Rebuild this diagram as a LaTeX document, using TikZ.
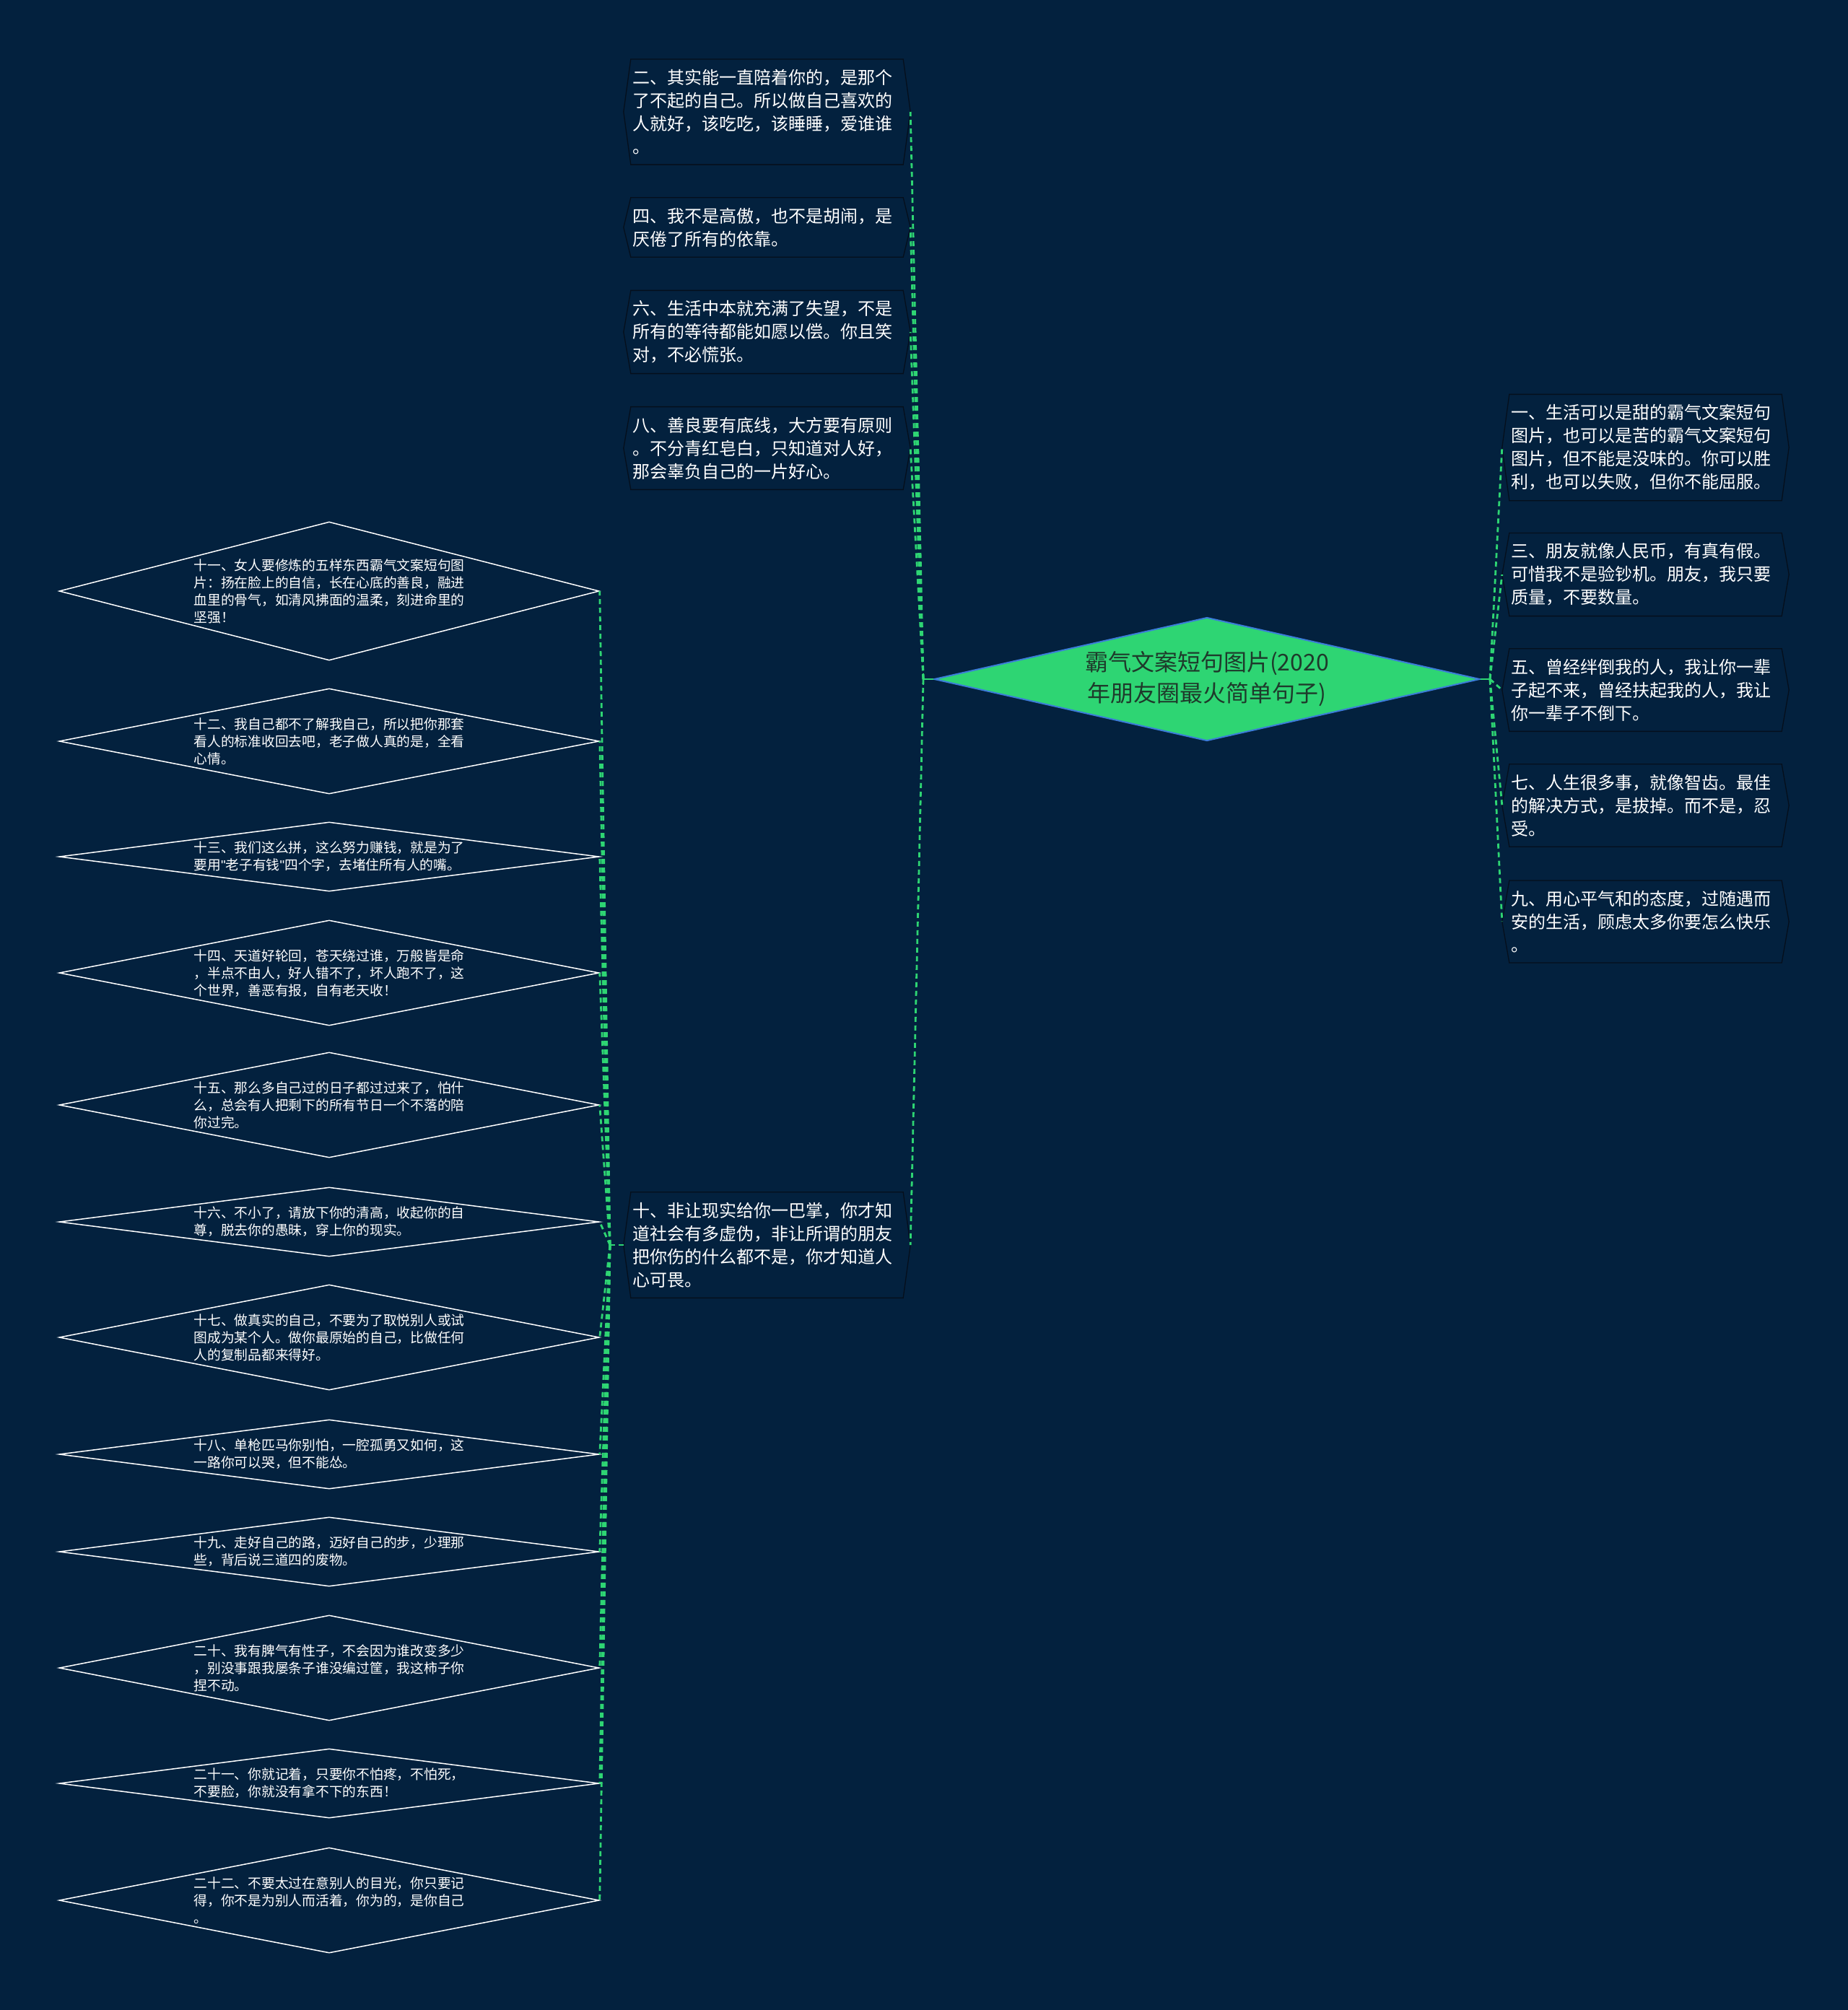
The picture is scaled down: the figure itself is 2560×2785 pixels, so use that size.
\documentclass[tikz,border=0pt]{standalone}
\usepackage{fontspec}
\setmainfont{Noto Sans CJK SC}
\newfontfamily\latinf{Liberation Sans}
\usetikzlibrary{shapes.geometric}
\definecolor{bg}{HTML}{03213E}
\definecolor{lime}{HTML}{2ED573}
\definecolor{rootedge}{HTML}{3B7DD8}
\definecolor{roottext}{HTML}{1E3A2B}
\definecolor{boxedge}{HTML}{050F1C}
\tikzset{
 conn/.style={lime, line width=2.8pt, dash pattern=on 7pt off 5pt},
 rootlink/.style={lime, line width=2.8pt},
 root/.style={diamond, aspect=4.4, inner sep=0pt, minimum width=756pt, minimum height=171pt, fill=lime, draw=rootedge, line width=2pt, text=roottext, align=center, font=\fontsize{32}{43}\selectfont},
 boxtext/.style={text width=373pt, align=left, inner xsep=2pt, inner ysep=14pt, text=white, font=\fontsize{24}{32}\selectfont},
 boxline/.style={draw=boxedge, line width=1.3pt},
 dia/.style={diamond, inner sep=0pt, minimum width=748pt, draw=white, line width=1.5pt},
 diatext/.style={text width=375pt, align=left, inner sep=0pt, text=white, font=\fontsize{18.75}{24}\selectfont},
}
\newcommand\hexbox[1]{%
 \draw[boxline] ([xshift=-10pt]#1.west) -- (#1.north west) -- (#1.north east) -- ([xshift=10pt]#1.east) -- (#1.south east) -- (#1.south west) -- cycle;
 \coordinate (#1-w) at ([xshift=-10pt]#1.west);
 \coordinate (#1-e) at ([xshift=10pt]#1.east);}
\newcommand\dq{{\latinf\symbol{34}}}
\begin{document}
\begin{tikzpicture}[x=1pt,y=-1pt]
\fill[bg] (0,0) rectangle (2560,2785);
\useasboundingbox (0,0) rectangle (2560,2785);

% root
\node[root] (root) at (1672,941) {霸气文案短句图片(2020\\年朋友圈最火简单句子)};

% top/left-middle boxes
\node[boxtext] (b2) at (1062.5,155) {二、其实能一直陪着你的，是那个\\了不起的自己。所以做自己喜欢的\\人就好，该吃吃，该睡睡，爱谁谁\\。};
\node[boxtext] (b4) at (1062.5,315) {四、我不是高傲，也不是胡闹，是\\厌倦了所有的依靠。};
\node[boxtext] (b6) at (1062.5,460) {六、生活中本就充满了失望，不是\\所有的等待都能如愿以偿。你且笑\\对，不必慌张。};
\node[boxtext] (b8) at (1062.5,621) {八、善良要有底线，大方要有原则\\。不分青红皂白，只知道对人好，\\那会辜负自己的一片好心。};
\node[boxtext] (b10) at (1062.5,1725) {十、非让现实给你一巴掌，你才知\\道社会有多虚伪，非让所谓的朋友\\把你伤的什么都不是，你才知道人\\心可畏。};

% right boxes
\node[boxtext] (b1) at (2279.5,620) {一、生活可以是甜的霸气文案短句\\图片，也可以是苦的霸气文案短句\\图片，但不能是没味的。你可以胜\\利，也可以失败，但你不能屈服。};
\node[boxtext] (b3) at (2279.5,796) {三、朋友就像人民币，有真有假。\\可惜我不是验钞机。朋友，我只要\\质量，不要数量。};
\node[boxtext] (b5) at (2279.5,956) {五、曾经绊倒我的人，我让你一辈\\子起不来，曾经扶起我的人，我让\\你一辈子不倒下。};
\node[boxtext] (b7) at (2279.5,1116) {七、人生很多事，就像智齿。最佳\\的解决方式，是拔掉。而不是，忍\\受。};
\node[boxtext] (b9) at (2279.5,1277) {九、用心平气和的态度，过随遇而\\安的生活，顾虑太多你要怎么快乐\\。};

\foreach \b in {b2,b4,b6,b8,b10,b1,b3,b5,b7,b9} {\hexbox{\b}}

% left diamonds
\node[dia, minimum height=192pt] (d11) at (456,819) {};
\node[diatext] at (d11) {十一、女人要修炼的五样东西霸气文案短句图\\片：扬在脸上的自信，长在心底的善良，融进\\血里的骨气，如清风拂面的温柔，刻进命里的\\坚强！};
\node[dia, minimum height=146pt] (d12) at (456,1027) {};
\node[diatext] at (d12) {十二、我自己都不了解我自己，所以把你那套\\看人的标准收回去吧，老子做人真的是，全看\\心情。};
\node[dia, minimum height=96pt] (d13) at (456,1187) {};
\node[diatext] at (d13) {十三、我们这么拼，这么努力赚钱，就是为了\\要用\dq 老子有钱\dq 四个字，去堵住所有人的嘴。};
\node[dia, minimum height=146pt] (d14) at (456,1348) {};
\node[diatext] at (d14) {十四、天道好轮回，苍天绕过谁，万般皆是命\\，半点不由人，好人错不了，坏人跑不了，这\\个世界，善恶有报，自有老天收！};
\node[dia, minimum height=146pt] (d15) at (456,1531) {};
\node[diatext] at (d15) {十五、那么多自己过的日子都过过来了，怕什\\么，总会有人把剩下的所有节日一个不落的陪\\你过完。};
\node[dia, minimum height=96pt] (d16) at (456,1693) {};
\node[diatext] at (d16) {十六、不小了，请放下你的清高，收起你的自\\尊，脱去你的愚昧，穿上你的现实。};
\node[dia, minimum height=146pt] (d17) at (456,1853) {};
\node[diatext] at (d17) {十七、做真实的自己，不要为了取悦别人或试\\图成为某个人。做你最原始的自己，比做任何\\人的复制品都来得好。};
\node[dia, minimum height=96pt] (d18) at (456,2015) {};
\node[diatext] at (d18) {十八、单枪匹马你别怕，一腔孤勇又如何，这\\一路你可以哭，但不能怂。};
\node[dia, minimum height=96pt] (d19) at (456,2150) {};
\node[diatext] at (d19) {十九、走好自己的路，迈好自己的步，少理那\\些，背后说三道四的废物。};
\node[dia, minimum height=146pt] (d20) at (456,2311) {};
\node[diatext] at (d20) {二十、我有脾气有性子，不会因为谁改变多少\\，别没事跟我屡条子谁没编过筐，我这柿子你\\捏不动。};
\node[dia, minimum height=96pt] (d21) at (456,2471) {};
\node[diatext] at (d21) {二十一、你就记着，只要你不怕疼，不怕死，\\不要脸，你就没有拿不下的东西！};
\node[dia, minimum height=146pt] (d22) at (456,2633) {};
\node[diatext] at (d22) {二十二、不要太过在意别人的目光，你只要记\\得，你不是为别人而活着，你为的，是你自己\\。};

% junctions
\coordinate (jl) at (1279,941);
\coordinate (jr) at (2064,941);
\coordinate (jg) at (845,1725);

\draw[rootlink] (root.west) -- (jl);
\draw[rootlink] ([yshift=-8pt]jl) -- ([yshift=8pt]jl);
\draw[rootlink] (root.east) -- (jr);
\draw[rootlink] ([yshift=-8pt]jr) -- ([yshift=8pt]jr);

\foreach \b in {b2,b4,b6,b8,b10} {\draw[conn] (jl) -- (\b-e);}
\foreach \b in {b1,b3,b5,b7,b9} {\draw[conn] (jr) -- (\b-w);}

\draw[conn] (b10-w) -- (jg);
\draw[rootlink, line width=2pt] ([yshift=-7pt]jg) -- ([yshift=7pt]jg);
\foreach \d in {d11,d12,d13,d14,d15,d16,d17,d18,d19,d20,d21,d22} {\draw[conn] (jg) -- (\d.east);}
\end{tikzpicture}
\end{document}
